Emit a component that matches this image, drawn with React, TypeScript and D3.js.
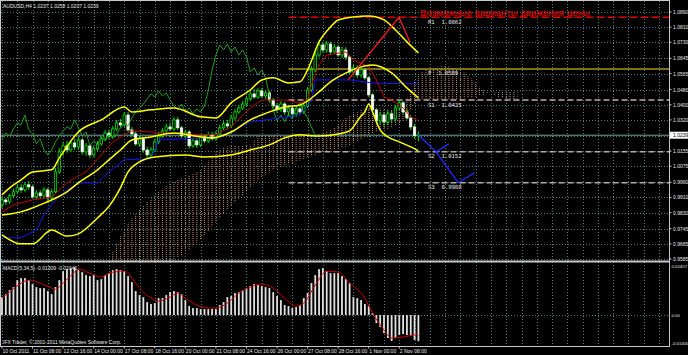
import * as d3 from 'd3';

// AUDUSD H4, 10 Oct 2011 00:00 .. 3 Nov 2011 04:00 (110 bars)
const opens = [
  0.9871, 0.9897, 0.9887, 0.9919, 0.994, 0.9961, 0.995, 0.9977, 0.9966, 0.9913,
  0.9934, 0.9919, 0.995, 0.9908, 0.994, 1.0045, 1.0151, 1.0183, 1.0161, 1.0198,
  1.0177, 1.0214, 1.0151, 1.0183, 1.0135, 1.0167, 1.0193, 1.022, 1.0251, 1.0235,
  1.0272, 1.0304, 1.0293, 1.0346, 1.0267, 1.0246, 1.0193, 1.022, 1.0161, 1.0135,
  1.0161, 1.0204, 1.0235, 1.0262, 1.0283, 1.0272, 1.032, 1.0278, 1.0235, 1.0256,
  1.0183, 1.0209, 1.0188, 1.023, 1.0209, 1.0241, 1.022, 1.0246, 1.0278, 1.0299,
  1.0288, 1.033, 1.0362, 1.0383, 1.0404, 1.0431, 1.0457, 1.0441, 1.0473, 1.0447,
  1.0463, 1.0425, 1.0394, 1.0373, 1.0404, 1.0362, 1.0383, 1.0352, 1.0378, 1.0362,
  1.0394, 1.0478, 1.0584, 1.0663, 1.0716, 1.0689, 1.0721, 1.0679, 1.0705, 1.0663,
  1.0689, 1.0652, 1.0573, 1.0594, 1.0557, 1.0584, 1.0542, 1.0452, 1.0373, 1.0315,
  1.0346, 1.0309, 1.0352, 1.0325, 1.0383, 1.041, 1.0362, 1.033, 1.0283, 1.0237,
];
const highs = [
  0.9913, 0.9908, 0.9929, 0.9956, 0.9977, 0.9982, 0.9992, 0.9998, 0.9977, 0.995,
  0.995, 0.9966, 0.9961, 0.9956, 1.0066, 1.0172, 1.0204, 1.0209, 1.0214, 1.022,
  1.023, 1.0225, 1.0198, 1.0193, 1.0183, 1.0209, 1.0235, 1.0267, 1.0267, 1.0288,
  1.032, 1.0325, 1.0362, 1.0362, 1.0283, 1.0262, 1.0235, 1.023, 1.0177, 1.0177,
  1.022, 1.0251, 1.0278, 1.0299, 1.0304, 1.0336, 1.0336, 1.0288, 1.0267, 1.0267,
  1.0225, 1.0225, 1.0246, 1.0246, 1.0256, 1.0256, 1.0262, 1.0293, 1.0315, 1.032,
  1.0346, 1.0378, 1.0399, 1.042, 1.0447, 1.0473, 1.0484, 1.0489, 1.0489, 1.0478,
  1.0473, 1.0436, 1.041, 1.042, 1.0415, 1.0399, 1.0394, 1.0394, 1.0394, 1.041,
  1.0494, 1.0605, 1.0689, 1.0742, 1.0732, 1.0737, 1.0732, 1.0721, 1.0716, 1.0705,
  1.0705, 1.0663, 1.061, 1.061, 1.06, 1.0594, 1.0552, 1.0463, 1.0383, 1.0362,
  1.0357, 1.0367, 1.0367, 1.0399, 1.0425, 1.042, 1.0378, 1.0346, 1.0299, 1.0258,
];
const lows = [
  0.9855, 0.9871, 0.9876, 0.9908, 0.9929, 0.9934, 0.994, 0.995, 0.9903, 0.9897,
  0.9903, 0.9908, 0.9892, 0.9887, 0.9929, 1.0035, 1.013, 1.0146, 1.0151, 1.0161,
  1.0161, 1.0135, 1.013, 1.0119, 1.0124, 1.0156, 1.0183, 1.0209, 1.022, 1.0225,
  1.0262, 1.0278, 1.0283, 1.0256, 1.023, 1.0183, 1.0177, 1.0146, 1.0114, 1.0119,
  1.0151, 1.0193, 1.0225, 1.0251, 1.0262, 1.0262, 1.0267, 1.0225, 1.022, 1.0167,
  1.0172, 1.0172, 1.0177, 1.0198, 1.0198, 1.0209, 1.0209, 1.0235, 1.0267, 1.0272,
  1.0278, 1.032, 1.0352, 1.0373, 1.0394, 1.042, 1.0431, 1.0431, 1.0436, 1.0431,
  1.041, 1.0383, 1.0357, 1.0362, 1.0346, 1.0341, 1.033, 1.0336, 1.0346, 1.0352,
  1.0383, 1.0468, 1.0573, 1.0652, 1.0674, 1.0674, 1.0663, 1.0668, 1.0652, 1.0647,
  1.0637, 1.0563, 1.0557, 1.0542, 1.0542, 1.0531, 1.0441, 1.0357, 1.0299, 1.0299,
  1.0288, 1.0293, 1.0309, 1.0315, 1.0373, 1.0352, 1.032, 1.0267, 1.022, 1.0207,
];
const closes = [
  0.9897, 0.9887, 0.9919, 0.994, 0.9961, 0.995, 0.9977, 0.9966, 0.9913, 0.9934,
  0.9919, 0.995, 0.9908, 0.994, 1.0045, 1.0151, 1.0183, 1.0161, 1.0198, 1.0177,
  1.0214, 1.0151, 1.0183, 1.0135, 1.0167, 1.0193, 1.022, 1.0251, 1.0235, 1.0272,
  1.0304, 1.0293, 1.0346, 1.0267, 1.0246, 1.0193, 1.022, 1.0161, 1.0135, 1.0161,
  1.0204, 1.0235, 1.0262, 1.0283, 1.0272, 1.032, 1.0278, 1.0235, 1.0256, 1.0183,
  1.0209, 1.0188, 1.023, 1.0209, 1.0241, 1.022, 1.0246, 1.0278, 1.0299, 1.0288,
  1.033, 1.0362, 1.0383, 1.0404, 1.0431, 1.0457, 1.0441, 1.0473, 1.0447, 1.0463,
  1.0425, 1.0394, 1.0373, 1.0404, 1.0362, 1.0383, 1.0352, 1.0378, 1.0362, 1.0394,
  1.0478, 1.0584, 1.0663, 1.0716, 1.0689, 1.0721, 1.0679, 1.0705, 1.0663, 1.0689,
  1.0652, 1.0573, 1.0594, 1.0557, 1.0584, 1.0542, 1.0452, 1.0373, 1.0315, 1.0346,
  1.0309, 1.0352, 1.0325, 1.0383, 1.041, 1.0362, 1.033, 1.0283, 1.0237, 1.0239,
];

// Bollinger bands, [bar, price]
const bbUpper = [
  [0, 0.9924], [2, 0.9961], [5, 1.0003], [8, 1.0045], [13, 1.0056], [15, 1.0119], [20, 1.0256],
  [26, 1.032], [32, 1.0388], [34, 1.0362], [39, 1.0373], [45, 1.0383], [52, 1.0336], [56, 1.033],
  [60, 1.041], [65, 1.0478], [68, 1.0531], [71, 1.0542], [75, 1.0515], [78, 1.0521], [80, 1.0584],
  [83, 1.0732], [86, 1.0811], [88, 1.0848], [92, 1.0864], [96, 1.0869], [100, 1.0848],
  [103, 1.0795], [106, 1.0732], [109, 1.0674],
];
const bbMiddle = [
  [0, 0.9818], [5, 0.9834], [8, 0.9855], [13, 0.9897], [17, 0.994], [20, 0.9987], [25, 1.0056],
  [28, 1.0109], [31, 1.0161], [34, 1.0214], [39, 1.023], [45, 1.0251], [52, 1.023], [55, 1.0225],
  [60, 1.0256], [65, 1.032], [70, 1.0362], [74, 1.0388], [78, 1.0399], [83, 1.0468], [86, 1.0521],
  [89, 1.0557], [94, 1.06], [97, 1.061], [102, 1.0568], [106, 1.0489], [109, 1.0436],
];
const bbLower = [
  [0, 0.9713], [5, 0.9665], [8, 0.9665], [13, 0.9738], [17, 0.9706], [20, 0.9718], [25, 0.9802],
  [28, 0.9863], [31, 0.9961], [33, 1.0045], [36, 1.0098], [40, 1.0124], [48, 1.0135], [53, 1.0124],
  [60, 1.0135], [65, 1.0161], [70, 1.0188], [74, 1.0225], [78, 1.0241], [83, 1.0235], [88, 1.0246],
  [91, 1.0262], [94, 1.0341], [95, 1.0362], [96, 1.0404], [97, 1.0362], [99, 1.0267],
  [101, 1.023], [104, 1.0204], [107, 1.0177], [109, 1.0156],
];

// Ichimoku
const tenkan = [
  [0, 0.9834], [3, 0.9871], [8, 0.9897], [13, 0.9913], [15, 0.995], [17, 0.9987], [20, 1.0024],
  [22, 1.0045], [26, 1.0135], [29, 1.0204], [32, 1.0241], [34, 1.0262], [39, 1.0256], [47, 1.0246],
  [56, 1.0241], [60, 1.0283], [65, 1.0383], [68, 1.0425], [74, 1.0425], [78, 1.041], [80, 1.0425],
  [81, 1.0505], [83, 1.061], [85, 1.0663], [90, 1.0679], [92, 1.0637], [96, 1.06], [98, 1.0531],
  [100, 1.0441], [102, 1.0425], [105, 1.0383], [107, 1.0336], [109, 1.0315],
];
const kijun = [
  [0, 0.9697], [5, 0.9697], [9, 0.9739], [11, 0.9818], [14, 0.9897], [17, 0.995], [20, 0.9987],
  [25, 0.9987], [28, 1.0045], [32, 1.0109], [39, 1.0114], [41, 1.0214], [52, 1.0225], [56, 1.023],
  [60, 1.0256], [65, 1.0309], [78, 1.0346], [81, 1.0425], [82, 1.0531], [91, 1.0531],
  [97, 1.0515], [109, 1.051],
];
const cloudBars = [28, 32, 36, 43, 52, 58, 65, 67, 78, 86, 91, 96, 104, 107, 109, 116, 122, 126, 128, 133, 135];
const spanA = [
  0.958, 0.9745, 0.9845, 0.9971, 1.0061, 1.0177, 1.0188, 1.0235, 1.0235, 1.0267, 1.0346,
  1.0383, 1.0378, 1.0478, 1.0568, 1.0605, 1.0557, 1.0478, 1.0457, 1.0425, 1.0415,
];
const spanB = [
  0.945, 0.946, 0.948, 0.955, 0.969, 0.9823, 0.9961, 1.0, 1.0105, 1.0161, 1.0183,
  1.0241, 1.0299, 1.0373, 1.0425, 1.0425, 1.0436, 1.0452, 1.0463, 1.0468, 1.0468,
];

// pivot levels
const pivotNames = ['R1', 'P', 'S1', 'S2', 'S3'];
const pivotValues = [1.0862, 1.0589, 1.0425, 1.0152, 0.9988];
const pivotStartBar = 75;

// drawn "possible variants"
const redVariant = [[90.6, 1.0531], [103.9, 1.0862], [106.8, 1.073]];
const blueVariantA = [[108.9, 1.0241], [113.6, 1.0152], [117, 1.0193]];
const blueVariantB = [[113.6, 1.0152], [119.4, 0.9988], [123.6, 1.004]];

// MACD(5,34,5)
const macdHist = [
  0.009, 0.0105, 0.0125, 0.014, 0.0175, 0.0185, 0.0185, 0.0175, 0.0155, 0.014,
  0.0135, 0.0135, 0.012, 0.0105, 0.014, 0.0175, 0.022, 0.023, 0.0235, 0.024,
  0.0225, 0.0215, 0.02, 0.0195, 0.02, 0.0175, 0.018, 0.02, 0.021, 0.0225,
  0.023, 0.0225, 0.022, 0.0195, 0.0165, 0.012, 0.01, 0.009, 0.0065, 0.0055,
  0.006, 0.0085, 0.0085, 0.01, 0.0115, 0.012, 0.0115, 0.0105, 0.0075, 0.0045,
  0.0035, 0.0035, 0.003, 0.003, 0.003, 0.003, 0.003, 0.005, 0.0065, 0.009,
  0.0095, 0.011, 0.0115, 0.0125, 0.0135, 0.0145, 0.0155, 0.015, 0.0145, 0.014,
  0.0135, 0.0115, 0.0095, 0.0075, 0.005, 0.0045, 0.0035, 0.004, 0.005, 0.0085,
  0.011, 0.016, 0.02, 0.023, 0.0235, 0.022, 0.021, 0.021, 0.021, 0.0195,
  0.018, 0.016, 0.009, 0.0085, 0.0075, 0.0055, 0.0045, 0.001, -0.004, -0.006,
  -0.009, -0.0115, -0.013, -0.0115, -0.01, -0.0095, -0.01, -0.0105, -0.0125, -0.0131,
];
const macdSignal = [
  [0, 0.0085], [2, 0.0115], [5, 0.016], [7, 0.0175], [10, 0.016], [13, 0.0135], [14, 0.013],
  [16, 0.016], [19, 0.0215], [20, 0.023], [23, 0.021], [26, 0.019], [28, 0.021], [32, 0.022],
  [34, 0.0185], [36, 0.0135], [39, 0.0085], [41, 0.007], [44, 0.009], [46, 0.011], [48, 0.0085],
  [51, 0.005], [54, 0.0035], [56, 0.0035], [59, 0.006], [62, 0.011], [65, 0.014], [68, 0.0155],
  [71, 0.0135], [74, 0.0085], [77, 0.0045], [79, 0.006], [82, 0.015], [85, 0.022], [88, 0.0215],
  [91, 0.016], [95, 0.0085], [97, 0.001], [100, -0.0075], [102, -0.0115], [105, -0.011],
  [108, -0.01], [109, -0.0104],
];

const priceTicks = [1.089, 1.081, 1.073, 1.0645, 1.0565, 1.048, 1.04, 1.032, 1.0235, 1.0155, 1.0075, 0.999, 0.991, 0.983, 0.9745, 0.9665, 0.9585];
const macdTicks = [0.02457, 0, -0.014];
const macdTickLabels = ['0.02457', '0.00', '-0.01400'];
const timeLabels = [
  '10 Oct 2011', '11 Oct 08:00', '12 Oct 16:00', '14 Oct 00:00', '17 Oct 08:00', '18 Oct 16:00',
  '20 Oct 00:00', '21 Oct 08:00', '24 Oct 16:00', '26 Oct 00:00', '27 Oct 08:00', '28 Oct 16:00',
  '1 Nov 00:00', '2 Nov 08:00',
];
const timeLabelBars = [0, 8, 16, 24, 32, 40, 48, 56, 64, 72, 80, 88, 96, 104];
const bidPrice = 1.0239;

const RIGHT = 669.5;
const MAIN_BOTTOM = 261.5;
const MACD_BOTTOM = 346.5;
const FONT = '"Liberation Sans", Arial, sans-serif';
const GRID = '#4f7f7b';

export default function App() {
  const x = d3.scaleLinear().domain([0, 8]).range([2, 32.56]);
  const y = d3.scaleLinear().domain([0.9585, 1.089]).range([259, 12]);
  const ym = d3.scaleLinear().domain([-0.014, 0.02457]).range([343, 266]);
  const barW = x(1) - x(0);

  const smooth = d3.line<number[]>().x((d) => x(d[0])).y((d) => y(d[1])).curve(d3.curveMonotoneX);
  const straight = d3.line<number[]>().x((d) => x(d[0])).y((d) => y(d[1]));

  const cloud = cloudBars.map((b, k) => ({ b, a: spanA[k], s: spanB[k] }));
  const band = d3.area<any>().x((d) => x(d.b)).y0((d) => y(d.s)).y1((d) => y(d.a)).curve(d3.curveMonotoneX);
  const belowA = d3.area<any>().x((d) => x(d.b)).y0((d) => y(d.a)).y1(MAIN_BOTTOM + 40).curve(d3.curveMonotoneX);
  const aboveA = d3.area<any>().x((d) => x(d.b)).y0(0).y1((d) => y(d.a)).curve(d3.curveMonotoneX);

  const chikou = closes.slice(26).map((c, j) => [j, c]);
  const signalLine = d3.line<number[]>().x((d) => x(d[0])).y((d) => ym(d[1])).curve(d3.curveMonotoneX);

  const gridBars = d3.range(0, 176, 4);
  const pivotStyle: Record<string, { stroke: string; dash?: string }> = {
    R1: { stroke: '#e00000', dash: '8 3' },
    P: { stroke: '#a89418' },
    S1: { stroke: '#c4a6a6', dash: '6 3' },
    S2: { stroke: '#b8a8a8', dash: '6 3' },
    S3: { stroke: '#b8a8a8', dash: '6 3' },
  };

  return (
    <svg
      width={688}
      height={355}
      style={{ position: 'absolute', left: 0, top: 0, background: '#000', display: 'block' }}
      fontFamily={FONT}
    >
      <defs>
        <clipPath id="mainClip">
          <rect x={1} y={1} width={RIGHT - 1} height={MAIN_BOTTOM - 1.5} />
        </clipPath>
        <clipPath id="macdClip">
          <rect x={1} y={263} width={RIGHT - 1} height={MACD_BOTTOM - 263} />
        </clipPath>
        <clipPath id="clipBelowA">
          <path d={belowA(cloud) || ''} />
        </clipPath>
        <clipPath id="clipAboveA">
          <path d={aboveA(cloud) || ''} />
        </clipPath>
        <pattern id="kumoUp" patternUnits="userSpaceOnUse" width={barW} height={2} x={x(0) - 0.5}>
          <rect width={1} height={1} fill="#c98a62" />
        </pattern>
        <pattern id="kumoDown" patternUnits="userSpaceOnUse" width={barW} height={2} x={x(0) - 0.5}>
          <rect width={1} height={1} fill="#b8a0b0" />
        </pattern>
      </defs>

      <rect x={0} y={0} width={688} height={355} fill="#000" />

      {/* grid */}
      <g stroke={GRID} strokeWidth={1} strokeDasharray="1 2">
        {gridBars.map((b) => (
          <line key={`v${b}`} x1={Math.round(x(b)) + 0.5} x2={Math.round(x(b)) + 0.5} y1={1} y2={MACD_BOTTOM - 1} />
        ))}
        {priceTicks.map((p) => (
          <line key={`h${p}`} x1={1} x2={RIGHT} y1={Math.round(y(p)) + 0.5} y2={Math.round(y(p)) + 0.5} />
        ))}
        <line x1={1} x2={RIGHT} y1={Math.round(ym(0)) + 0.5} y2={Math.round(ym(0)) + 0.5} />
      </g>

      <g clipPath="url(#mainClip)">
        {/* kumo */}
        <path d={band(cloud) || ''} fill="url(#kumoUp)" clipPath="url(#clipBelowA)" />
        <path d={band(cloud) || ''} fill="url(#kumoDown)" clipPath="url(#clipAboveA)" />

        {/* pivots */}
        {pivotNames.map((n, k) => {
          const st = pivotStyle[n];
          const py = y(pivotValues[k]);
          return (
            <g key={n}>
              <line
                x1={x(pivotStartBar)}
                x2={RIGHT}
                y1={py}
                y2={py}
                stroke={st.stroke}
                strokeWidth={1.6}
                strokeDasharray={st.dash}
              />
              <text
                x={x(111.5)}
                y={py + 6.5}
                fill="#e8e8e8"
                fontSize={5.6}
                fontFamily='"DejaVu Sans Mono", monospace'
                style={{ whiteSpace: 'pre' }}
              >
                {`${n}  ${pivotValues[k].toFixed(4)}`}
              </text>
            </g>
          );
        })}

        {/* bid line */}
        <line x1={1} x2={RIGHT} y1={y(bidPrice)} y2={y(bidPrice)} stroke="#6aa3a0" strokeWidth={1} />

        {/* candles */}
        {closes.map((c, i) => {
          const o = opens[i];
          const cx = x(i);
          const top = y(Math.max(o, c));
          const bot = y(Math.min(o, c));
          const bull = c >= o;
          return (
            <g key={i}>
              <line x1={cx} x2={cx} y1={y(highs[i])} y2={y(lows[i])} stroke="#00e000" strokeWidth={1} />
              <rect
                x={cx - 1.2}
                y={top}
                width={2.4}
                height={Math.max(bot - top, 0.8)}
                fill={bull ? '#000' : '#ffffff'}
                stroke={bull ? '#00ff00' : '#e8ffe8'}
                strokeWidth={0.7}
              />
            </g>
          );
        })}

        {/* ichimoku lines */}
        <path d={straight(chikou) || ''} fill="none" stroke="#1fa01f" strokeWidth={1} />
        <path d={straight(kijun) || ''} fill="none" stroke="#1414ff" strokeWidth={1} />
        <path d={straight(tenkan) || ''} fill="none" stroke="#c80000" strokeWidth={1} />

        {/* bollinger */}
        {[bbUpper, bbMiddle, bbLower].map((s, k) => (
          <path key={k} d={smooth(s) || ''} fill="none" stroke="#ffff00" strokeWidth={1.5} />
        ))}

        {/* variants */}
        <path d={straight(redVariant) || ''} fill="none" stroke="#ff1a1a" strokeWidth={1.3} />
        <path d={straight(blueVariantA) || ''} fill="none" stroke="#1a2cff" strokeWidth={1.3} />
        <path d={straight(blueVariantB) || ''} fill="none" stroke="#1a2cff" strokeWidth={1.3} />
      </g>

      <text x={x(109.5)} y={15.5} fill="#ff0000" fontSize={9.6}>
        Возможные варианты движения цены
      </text>

      {/* MACD */}
      <g clipPath="url(#macdClip)">
        {macdHist.map((v, i) => (
          <rect
            key={i}
            x={x(i) - 0.9}
            y={Math.min(ym(v), ym(0))}
            width={1.8}
            height={Math.abs(ym(v) - ym(0))}
            fill="#e0e0e0"
          />
        ))}
        <path d={signalLine(macdSignal) || ''} fill="none" stroke="#d00000" strokeWidth={1} />
      </g>

      {/* frame */}
      <g stroke="#c8c8c8" strokeWidth={1} fill="none">
        <rect x={0.5} y={0.5} width={RIGHT - 0.5} height={MACD_BOTTOM - 0.5} />
        <line x1={0.5} x2={RIGHT} y1={MAIN_BOTTOM} y2={MAIN_BOTTOM} strokeWidth={2} />
      </g>

      {/* labels */}
      <g fill="#e8e8e8" fontSize={5}>
        <text x={3} y={7.5}>AUDUSD,H4  1.0237 1.0258 1.0207 1.0239</text>
        <text x={3} y={270}>MACD(5,34,5) -0.01309 -0.01041</text>
        <text x={3} y={344}>IFX Trader, © 2001-2011 MetaQuotes Software Corp.</text>
        {priceTicks.map((p) => (
          <g key={p}>
            <line x1={RIGHT} x2={RIGHT + 2} y1={y(p)} y2={y(p)} stroke="#c8c8c8" />
            <text x={673} y={y(p) + 2}>{p.toFixed(4)}</text>
          </g>
        ))}
        {macdTicks.map((v, k) => (
          <text key={k} x={671.5} y={ym(v) + 2} fontSize={4.3}>{macdTickLabels[k]}</text>
        ))}
        {timeLabels.map((t, k) => (
          <g key={t}>
            <line x1={x(timeLabelBars[k])} x2={x(timeLabelBars[k])} y1={MACD_BOTTOM} y2={MACD_BOTTOM + 2} stroke="#c8c8c8" />
            <text x={x(timeLabelBars[k]) + 0.5} y={353}>{t}</text>
          </g>
        ))}
      </g>

      {/* bid label */}
      <rect x={670} y={y(bidPrice) - 3.5} width={18} height={7} fill="#ffffff" />
      <text x={673} y={y(bidPrice) + 2} fontSize={5} fill="#000">
        {bidPrice.toFixed(4)}
      </text>
    </svg>
  );
}
